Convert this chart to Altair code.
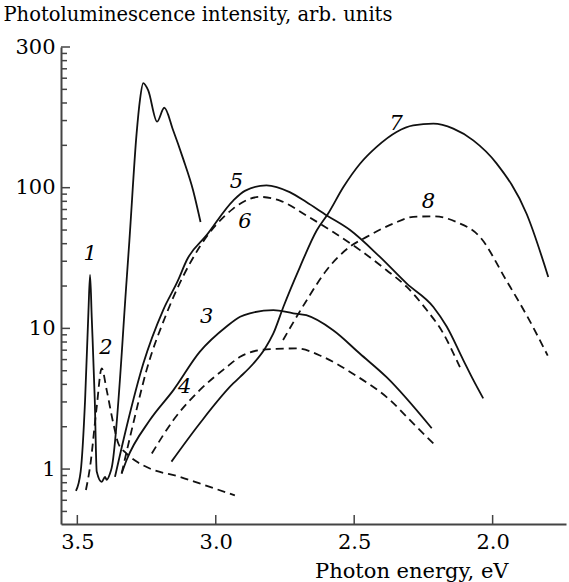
import altair as alt
import pandas as pd

# ---- data (photon energy in eV, intensity in arb. units) ----
c1_E = [3.505, 3.488, 3.472, 3.460, 3.454, 3.448, 3.437, 3.430, 3.412, 3.400, 3.394, 3.382, 3.376,
        3.322, 3.312, 3.286, 3.274, 3.262, 3.244, 3.212, 3.186, 3.154, 3.118, 3.082, 3.055]
c1_I = [0.70, 0.96, 3.1, 13.0, 24.0, 12.0, 3.1, 0.96, 0.81, 0.88, 0.84, 0.93, 1.02,
        22.0, 42.0, 242.0, 418.0, 553.0, 491.0, 295.0, 370.0, 256.0, 161.0, 96.0, 57.0]

c2_E = [3.469, 3.454, 3.430, 3.412, 3.394, 3.370, 3.352, 3.322, 3.286, 3.238, 3.130, 3.058, 2.931]
c2_I = [0.71, 1.04, 2.77, 5.2, 3.64, 2.11, 1.52, 1.29, 1.13, 1.01, 0.88, 0.79, 0.65]

c3_E = [3.340, 3.322, 3.238, 3.153, 3.058, 2.961, 2.912, 2.877, 2.792, 2.720, 2.673, 2.576,
        2.479, 2.383, 2.220]
c3_I = [0.93, 1.16, 2.23, 3.64, 6.8, 10.3, 12.1, 12.8, 13.5, 12.8, 12.4, 9.7,
        6.6, 4.5, 1.95]

c4_E = [3.231, 3.153, 3.058, 2.961, 2.912, 2.817, 2.709, 2.613, 2.506, 2.371, 2.287, 2.208]
c4_I = [1.29, 2.23, 3.64, 5.3, 6.28, 7.1, 7.2, 6.28, 4.78, 3.1, 2.11, 1.48]

c5_E = [3.364, 3.322, 3.262, 3.190, 3.136, 3.105, 3.033, 2.937, 2.895, 2.817, 2.733, 2.673,
        2.599, 2.515, 2.407, 2.310, 2.214, 2.166, 2.106, 2.070, 2.034]
c5_I = [0.88, 2.0, 5.6, 13.5, 22.0, 30.5, 46.0, 81.0, 95.0, 104.0, 93.0, 79.0,
        63.5, 50.0, 32.2, 20.8, 14.2, 10.3, 5.95, 4.3, 3.18]

c6_E = [3.340, 3.298, 3.250, 3.178, 3.058, 2.937, 2.912, 2.840, 2.768, 2.673, 2.576, 2.479,
        2.383, 2.310, 2.238, 2.178, 2.130, 2.118]
c6_I = [0.93, 2.11, 5.05, 12.7, 38.0, 71.0, 77.0, 86.0, 81.0, 63.5, 48.4, 36.0,
        25.9, 19.7, 13.5, 9.2, 5.95, 5.3]

c7_E = [3.160, 3.058, 2.937, 2.912, 2.864, 2.822, 2.792, 2.756, 2.696, 2.635, 2.594, 2.539,
        2.479, 2.419, 2.347, 2.287, 2.214, 2.142, 2.070, 1.986, 1.877, 1.799]
c7_I = [1.13, 2.11, 4.06, 4.52, 5.63, 7.2, 9.2, 14.2, 27.3, 49.8, 65.5, 101.0,
        148.0, 195.0, 249.0, 277.0, 285.0, 263.0, 217.0, 149.0, 65.0, 23.2]

c8_E = [2.757, 2.672, 2.600, 2.516, 2.455, 2.359, 2.287, 2.214, 2.130, 2.046, 1.951, 1.867, 1.801]
c8_I = [8.26, 15.8, 25.9, 38.0, 44.7, 55.6, 62.0, 62.6, 57.0, 44.7, 22.0, 11.4, 6.4]

solid_curves = {"1": (c1_E, c1_I), "3": (c3_E, c3_I), "5": (c5_E, c5_I), "7": (c7_E, c7_I)}
dashed_curves = {"2": (c2_E, c2_I), "4": (c4_E, c4_I), "6": (c6_E, c6_I), "8": (c8_E, c8_I)}

label_text = ["1", "2", "3", "4", "5", "6", "7", "8"]
label_E = [3.454, 3.397, 3.033, 3.112, 2.925, 2.895, 2.348, 2.232]
label_I = [34.0, 7.2, 12.1, 3.84, 109.0, 57.0, 285.0, 79.0]

x_tick_values = [3.5, 3.0, 2.5, 2.0]
x_tick_labels = ["3.5", "3.0", "2.5", "2.0"]
y_tick_values = [1, 10, 100, 1000]
y_tick_labels = ["1", "10", "100", "300"]
y_minor_values = [0.5, 0.6, 0.7, 0.8, 0.9,
                  2, 3, 4, 5, 6, 7, 8, 9,
                  20, 30, 40, 50, 60, 70, 80, 90,
                  200, 300, 400, 500, 600, 700, 800, 900]

x_domain = [1.735, 3.559]
y_domain = [0.407, 1000]

# ---- build tables ----
def to_df(curves):
    rows = []
    for name, (es, ins) in curves.items():
        for e, v in zip(es, ins):
            rows.append({"curve": name, "E": e, "I": v})
    return pd.DataFrame(rows)

solid_df = to_df(solid_curves)
dashed_df = to_df(dashed_curves)
labels_df = pd.DataFrame({"t": label_text, "E": label_E, "I": label_I})
xt_df = pd.DataFrame({"E": x_tick_values})
yt_major_df = pd.DataFrame({"I": y_tick_values})
yt_minor_df = pd.DataFrame({"I": y_minor_values})

FONT = "DejaVu Serif"
FS = 21
AX = "#444444"
W, H = 505, 477

x_label_expr = " : ".join(
    [f"datum.value == {v} ? '{l}'" for v, l in zip(x_tick_values, x_tick_labels)] + ["''"])
y_label_expr = " : ".join(
    [f"datum.value == {v} ? '{l}'" for v, l in zip(y_tick_values, y_tick_labels)] + ["''"])

xscale = alt.Scale(domain=x_domain, reverse=True, zero=False, nice=False)
yscale = alt.Scale(type="log", domain=y_domain, nice=False)

xaxis = alt.Axis(values=x_tick_values, labelExpr=x_label_expr, ticks=False, grid=False,
                 labelPadding=7, labelFont=FONT, labelFontSize=FS, labelColor="black",
                 domainColor=AX, domainWidth=2,
                 title="Photon energy, eV", titleFont=FONT, titleFontSize=FS,
                 titleFontWeight="normal", titleColor="black", titleAlign="right",
                 titleBaseline="alphabetic", titleX=447, titleY=53)
yaxis = alt.Axis(values=y_tick_values, labelExpr=y_label_expr, ticks=False, grid=False,
                 labelPadding=6, labelFont=FONT, labelFontSize=FS, labelColor="black",
                 domainColor=AX, domainWidth=2,
                 title="Photoluminescence intensity, arb. units", titleFont=FONT,
                 titleFontSize=19.5, titleFontWeight="normal", titleColor="black",
                 titleAngle=0, titleAlign="left", titleBaseline="alphabetic",
                 titleX=-58, titleY=-27)

base_x = alt.X("E:Q", scale=xscale, axis=xaxis)
base_y = alt.Y("I:Q", scale=yscale, axis=yaxis)

solid = alt.Chart(solid_df).mark_line(color="#111111", strokeWidth=1.8, interpolate="monotone").encode(
    x=base_x, y=base_y, detail="curve:N", order=alt.Order("E:Q", sort="descending"))
dashed = alt.Chart(dashed_df).mark_line(color="#111111", strokeWidth=1.8, strokeDash=[8, 5],
                                        interpolate="monotone").encode(
    x=alt.X("E:Q", scale=xscale), y=alt.Y("I:Q", scale=yscale),
    detail="curve:N", order=alt.Order("E:Q", sort="descending"))
texts = alt.Chart(labels_df).mark_text(font=FONT, fontStyle="italic", fontSize=FS,
                                       color="black", align="center", baseline="middle").encode(
    x=alt.X("E:Q", scale=xscale), y=alt.Y("I:Q", scale=yscale), text="t:N")

xticks = alt.Chart(xt_df).mark_rule(color=AX, strokeWidth=1.5).encode(
    x=alt.X("E:Q", scale=xscale), y=alt.value(H), y2=alt.value(H - 9))
ymaj = alt.Chart(yt_major_df).mark_rule(color=AX, strokeWidth=1.5).encode(
    y=alt.Y("I:Q", scale=yscale), x=alt.value(0), x2=alt.value(9))
ymin = alt.Chart(yt_minor_df).mark_rule(color=AX, strokeWidth=1.5).encode(
    y=alt.Y("I:Q", scale=yscale), x=alt.value(0), x2=alt.value(6))

chart = alt.layer(solid, dashed, texts, xticks, ymaj, ymin).properties(
    width=W, height=H,
    autosize=alt.AutoSizeParams(type="none"),
    padding={"left": 61, "top": 47, "right": 3, "bottom": 58},
    background="white",
).configure_view(stroke=None)

chart.save("out.html", embed_options={"renderer": "svg", "actions": False})
